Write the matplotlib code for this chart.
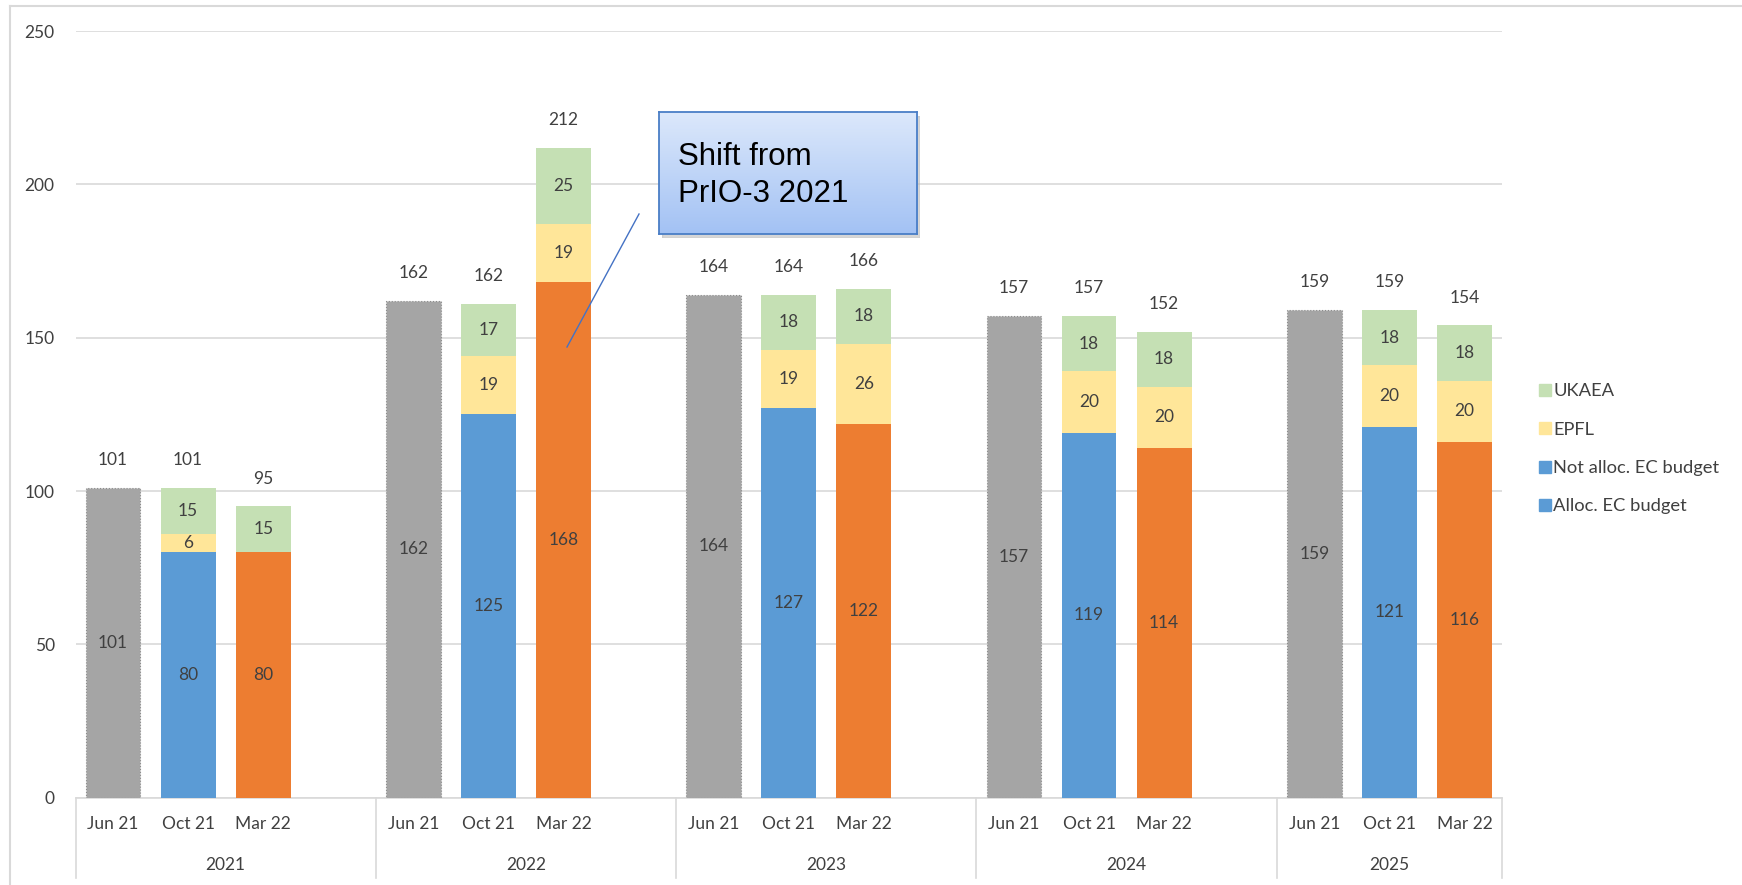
import matplotlib
matplotlib.use("Agg")
import matplotlib.pyplot as plt
import numpy as np
from matplotlib.transforms import blended_transform_factory
from matplotlib.lines import Line2D
from matplotlib.patches import Rectangle

years = ["2021", "2022", "2023", "2024", "2025"]
versions = ["Jun 21", "Oct 21", "Mar 22"]

jun21_total = [101, 162, 164, 157, 159]
oct21_ec = [80, 125, 127, 119, 121]
oct21_epfl = [6, 19, 19, 20, 20]
oct21_ukaea = [15, 17, 18, 18, 18]
oct21_total = [101, 162, 164, 157, 159]
mar22_ec = [80, 168, 122, 114, 116]
mar22_epfl = [0, 19, 26, 20, 20]
mar22_ukaea = [15, 25, 18, 18, 18]
mar22_total = [95, 212, 166, 152, 154]

legend_labels = ["UKAEA", "EPFL", "Not alloc. EC budget", "Alloc. EC budget"]

C_GRAY = "#A5A5A5"
C_BLUE = "#5B9BD5"
C_ORANGE = "#ED7D31"
C_YELLOW = "#FFE699"
C_GREEN = "#C5E0B4"
TXT = "#404040"
GRID = "#D9D9D9"

plt.rcParams["font.family"] = ["Lato", "DejaVu Sans"]

W, H = 1742, 885
fig = plt.figure(figsize=(W / 100, H / 100), dpi=100)
ax_l, ax_r, ax_b, ax_t = 75.5, 1502, 797.7, 31
ax = fig.add_axes([ax_l / W, 1 - ax_b / H, (ax_r - ax_l) / W, (ax_b - ax_t) / H])

n_groups = len(years)
slot = 4
x_jun = np.arange(n_groups) * slot + 0.5
x_oct = x_jun + 1
x_mar = x_jun + 2
bw = 0.73

ax.bar(x_jun, jun21_total, bw, color=C_GRAY, edgecolor="#8C8C8C", linestyle=":", linewidth=0.8, zorder=3)
ax.bar(x_oct, oct21_ec, bw, color=C_BLUE, zorder=3)
ax.bar(x_oct, oct21_epfl, bw, bottom=oct21_ec, color=C_YELLOW, zorder=3)
ax.bar(x_oct, oct21_ukaea, bw, bottom=np.add(oct21_ec, oct21_epfl), color=C_GREEN, zorder=3)
ax.bar(x_mar, mar22_ec, bw, color=C_ORANGE, zorder=3)
ax.bar(x_mar, mar22_epfl, bw, bottom=mar22_ec, color=C_YELLOW, zorder=3)
ax.bar(x_mar, mar22_ukaea, bw, bottom=np.add(mar22_ec, mar22_epfl), color=C_GREEN, zorder=3)

fs = 12.5
def seg_label(xs, bottoms, heights):
    for x, b, h in zip(xs, bottoms, heights):
        if h > 0:
            ax.text(x, b + h / 2, str(h), ha="center", va="center", fontsize=fs, color=TXT, zorder=4)

seg_label(x_jun, [0] * n_groups, jun21_total)
seg_label(x_oct, [0] * n_groups, oct21_ec)
seg_label(x_oct, oct21_ec, oct21_epfl)
seg_label(x_oct, np.add(oct21_ec, oct21_epfl), oct21_ukaea)
seg_label(x_mar, [0] * n_groups, mar22_ec)
seg_label(x_mar, mar22_ec, mar22_epfl)
seg_label(x_mar, np.add(mar22_ec, mar22_epfl), mar22_ukaea)

oct_tops = np.add(np.add(oct21_ec, oct21_epfl), oct21_ukaea)
mar_tops = np.add(np.add(mar22_ec, mar22_epfl), mar22_ukaea)
for xs, tops, labs in [(x_jun, jun21_total, jun21_total), (x_oct, oct_tops, oct21_total), (x_mar, mar_tops, mar22_total)]:
    for x, t, l in zip(xs, tops, labs):
        ax.annotate(str(l), (x, t), xytext=(0, 20), textcoords="offset points",
                    ha="center", va="center", fontsize=fs, color=TXT)

ax.set_xlim(0, slot * (n_groups - 1) + 3)
ax.set_ylim(0, 250)
ax.set_yticks(np.arange(0, 251, 50))
ax.grid(axis="y", color=GRID, linewidth=1.2, zorder=0)
ax.set_axisbelow(True)
for s in ["left", "right", "top"]:
    ax.spines[s].set_visible(False)
ax.spines["bottom"].set_color(GRID)
ax.spines["bottom"].set_linewidth(1.2)
ax.tick_params(axis="y", length=0, pad=15, labelsize=fs, labelcolor=TXT)

xt = np.concatenate([x_jun, x_oct, x_mar])
xl = [versions[0]] * n_groups + [versions[1]] * n_groups + [versions[2]] * n_groups
ax.set_xticks(xt)
ax.set_xticklabels(xl)
ax.tick_params(axis="x", length=0, pad=13, labelsize=fs, labelcolor=TXT)

trans = blended_transform_factory(ax.transData, ax.transAxes)
axh = ax_b - ax_t
bounds = [g * slot for g in range(n_groups)] + [slot * (n_groups - 1) + 3]
for b in bounds:
    ax.add_line(Line2D([b, b], [0, -80 / axh], transform=trans, color=GRID, linewidth=1.2, clip_on=False))
for g, yr in enumerate(years):
    cx = (bounds[g] + bounds[g + 1]) / 2
    ax.text(cx, -67 / axh, yr, transform=trans, ha="center", va="center", fontsize=fs, color=TXT)

# legend
handles = [Line2D([], [], marker="s", linestyle="none", markersize=8, color=c)
           for c in [C_GREEN, C_YELLOW, C_BLUE, C_BLUE]]
fig.legend(handles, legend_labels, loc="upper left", bbox_to_anchor=(1532 / W, 1 - 376 / H),
           frameon=False, fontsize=13.2, labelcolor=TXT, handlelength=0.6, handletextpad=0.15,
           labelspacing=1.22, borderaxespad=0)

# outer border
fig.add_artist(Line2D([10 / W, 10 / W], [0, 1 - 6 / H], transform=fig.transFigure, color=GRID, linewidth=1.5))
fig.add_artist(Line2D([10 / W, 1], [1 - 6 / H, 1 - 6 / H], transform=fig.transFigure, color=GRID, linewidth=1.5))

# callout line
fig.add_artist(Line2D([639 / W, 567 / W], [1 - 214 / H, 1 - 347 / H], transform=fig.transFigure,
                      color="#4472C4", linewidth=1.0, zorder=10))

# callout box with gradient and shadow
bx0, by0, bx1, by1 = 659, 112, 917, 234
sh = fig.add_axes([(bx0 + 3) / W, 1 - (by1 + 4) / H, (bx1 - bx0) / W, (by1 - by0) / H])
sh.set_axis_off()
sh.add_patch(Rectangle((0, 0), 1, 1, transform=sh.transAxes, color="#BBBBBB", alpha=0.6))
cb = fig.add_axes([bx0 / W, 1 - by1 / H, (bx1 - bx0) / W, (by1 - by0) / H])
top_c = np.array([220, 232, 251]) / 255
bot_c = np.array([163, 194, 244]) / 255
t = np.linspace(0, 1, 100)[:, None]
grad = (top_c[None, :] * (1 - t) + bot_c[None, :] * t)[:, None, :]
grad = np.repeat(grad, 2, axis=1)
cb.imshow(grad, aspect="auto", extent=[0, 1, 0, 1], origin="upper")
cb.set_xlim(0, 1)
cb.set_ylim(0, 1)
cb.set_xticks([])
cb.set_yticks([])
for s in cb.spines.values():
    s.set_color("#4A7EC6")
    s.set_linewidth(1.3)
cb.text(19 / (bx1 - bx0), 0.48, "Shift from\nPrIO-3 2021", transform=cb.transAxes, ha="left", va="center",
        fontsize=22.5, family=["Liberation Sans", "DejaVu Sans"], color="black", linespacing=1.32)

fig.savefig("out.png", dpi=100)
